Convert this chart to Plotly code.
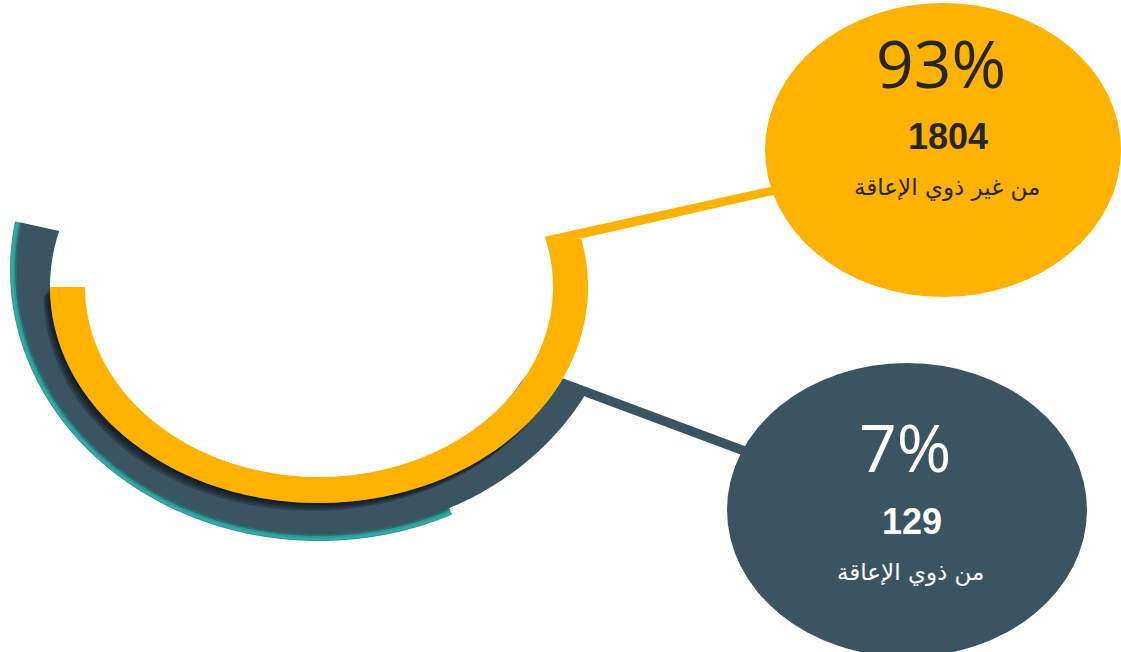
import numpy as np
import plotly.graph_objects as go

# ---- data ----
groups = ["من غير ذوي الإعاقة", "من ذوي الإعاقة"]
percents = [93, 7]
counts = [1804, 129]

# ---- style ----
YELLOW = "#FFB200"
SLATE = "#3B5462"
TEAL = "#2F9896"
TEAL_D = "#2A6B70"
W, H = 1121, 652


def pt(c, r, a):
    t = np.radians(a)
    return c[0] + r[0] * np.cos(t), c[1] - r[1] * np.sin(t)


def ring(co, ro, ci, ri, a0o, a1o, a0i=None, a1i=None, n=260):
    a0i = a0o if a0i is None else a0i
    a1i = a1o if a1i is None else a1i
    to = np.radians(np.linspace(a0o, a1o, n))
    ti = np.radians(np.linspace(a1i, a0i, n))
    xs = np.concatenate([co[0] + ro[0] * np.cos(to), ci[0] + ri[0] * np.cos(ti)])
    ys = np.concatenate([co[1] - ro[1] * np.sin(to), ci[1] - ri[1] * np.sin(ti)])
    return "M " + " L ".join(f"{x:.2f},{y:.2f}" for x, y in zip(xs, ys)) + " Z"


def poly(points):
    return "M " + " L ".join(f"{x:.2f},{y:.2f}" for x, y in points) + " Z"


# geometry (pixel space)
Y_C = (319, 287)          # yellow arc centre
Y_RO = (269, 216)         # yellow outer radii
Y_RI = (234, 190)         # yellow inner radii
S_C = (319, 270)          # slate outer centre
S_RO = (302, 264)         # slate outer radii
T_RO = (309, 271)         # teal rim outer radii
BUB1 = dict(x0=765, x1=1121, y0=3, y1=297)
BUB2 = dict(x0=727, x1=1087, y0=363, y1=657)
S_START_O, S_START_I = 169.7, 165
T_END = 295.5

shapes = []
# teal rim of the outer (slate) arc
shapes.append(dict(type="path", path=ring(S_C, T_RO, S_C, (S_RO[0] - 2, S_RO[1] - 2), S_START_O, T_END),
                   fillcolor=TEAL, line=dict(width=0)))
shapes.append(dict(type="path", path=ring(S_C, (T_RO[0] - 1, T_RO[1] - 1), S_C,
                                          (T_RO[0] - 3, T_RO[1] - 3), S_START_O, T_END),
                   fillcolor="#35A9A6", line=dict(width=0)))
shapes.append(dict(type="path", path=ring(S_C, (S_RO[0] + 2, S_RO[1] + 2), S_C, (S_RO[0] - 2, S_RO[1] - 2),
                                          S_START_O, T_END),
                   fillcolor=TEAL_D, line=dict(width=0)))

# slate connector: band leaving the yellow outer edge toward the lower bubble
SLOPE2, THICK2 = 0.372, 10
c_top = pt(Y_C, Y_RO, -25)
b2_left = BUB2["x0"] + 33


def bottom_line(x):
    return c_top[1] + SLOPE2 * (x - c_top[0]) + THICK2


shapes.append(dict(type="path",
                   path=poly([c_top, (b2_left, c_top[1] + SLOPE2 * (b2_left - c_top[0])),
                              (b2_left, bottom_line(b2_left)),
                              (c_top[0] + 12, bottom_line(c_top[0] + 12)),
                              (c_top[0], c_top[1] + 11)]),
                   fillcolor=SLATE, line=dict(width=0)))
# slate arc ends where its outer edge meets the connector's lower edge
angs = np.linspace(-10, -45, 3501)
px, py = pt(S_C, S_RO, angs)
s_end = angs[np.argmin(np.abs(py - bottom_line(px)))]
shapes.append(dict(type="path", path=ring(S_C, S_RO, Y_C, Y_RO, S_START_O, 360 + s_end, S_START_I, 335),
                   fillcolor=SLATE, line=dict(width=0)))
# soft shadow of the yellow arc
for k in range(1, 5):
    shapes.append(dict(type="path",
                       path=ring((Y_C[0] - 1.6 * k, Y_C[1] + 2.0 * k), Y_RO,
                                 (Y_C[0] - 1.6 * k, Y_C[1] + 2.0 * k), Y_RI, 180, 333),
                       fillcolor="rgba(0,0,0,0.22)", line=dict(width=0)))
# yellow connector (from yellow arc end to upper bubble)
y_end_o = pt(Y_C, Y_RO, 13)
y_end_i = pt(Y_C, Y_RI, 15.3)
b1_left = BUB1["x0"] + 25
shapes.append(dict(type="path",
                   path=poly([y_end_i, (b1_left, y_end_i[1] - 0.222 * (b1_left - y_end_i[0])),
                              (b1_left, y_end_o[1] - 0.226 * (b1_left - y_end_o[0])), y_end_o]),
                   fillcolor=YELLOW, line=dict(width=0)))
# yellow arc
shapes.append(dict(type="path", path=ring(Y_C, Y_RO, Y_C, Y_RI, 180, 373, 180, 375.3),
                   fillcolor=YELLOW, line=dict(width=0)))
# bubbles
shapes.append(dict(type="circle", **BUB1, fillcolor=YELLOW, line=dict(width=0)))
shapes.append(dict(type="circle", **BUB2, fillcolor=SLATE, line=dict(width=0)))

# bubble text
bubble = [dict(pct_x=941, pct_y=62, cnt_x=948, cnt_y=136, lab_x=947, lab_y=187, color="#262626"),
          dict(pct_x=905, pct_y=446, cnt_x=912, cnt_y=521, lab_x=910, lab_y=572, color="#FFFFFF")]
annotations = []
for i, b in enumerate(bubble):
    annotations.append(dict(x=b["pct_x"], y=b["pct_y"], text=f"{percents[i]}%", showarrow=False,
                            xref="x", yref="y", xanchor="center", yanchor="middle",
                            font=dict(family="Open Sans", size=66, color=b["color"])))
    annotations.append(dict(x=b["cnt_x"], y=b["cnt_y"], text=f"<b>{counts[i]}</b>", showarrow=False,
                            xref="x", yref="y", xanchor="center", yanchor="middle",
                            font=dict(family="Liberation Sans", size=36, color=b["color"])))
    annotations.append(dict(x=b["lab_x"], y=b["lab_y"], text=groups[i], showarrow=False,
                            xref="x", yref="y", xanchor="center", yanchor="middle",
                            font=dict(family="DejaVu Sans", size=23, color=b["color"])))

fig = go.Figure()
fig.update_layout(
    width=W, height=H, margin=dict(l=0, r=0, t=0, b=0),
    paper_bgcolor="white", plot_bgcolor="white",
    xaxis=dict(range=[0, W], visible=False, fixedrange=True),
    yaxis=dict(range=[H, 0], visible=False, fixedrange=True),
    shapes=shapes, annotations=annotations, showlegend=False,
)
fig.write_html("out.html")
